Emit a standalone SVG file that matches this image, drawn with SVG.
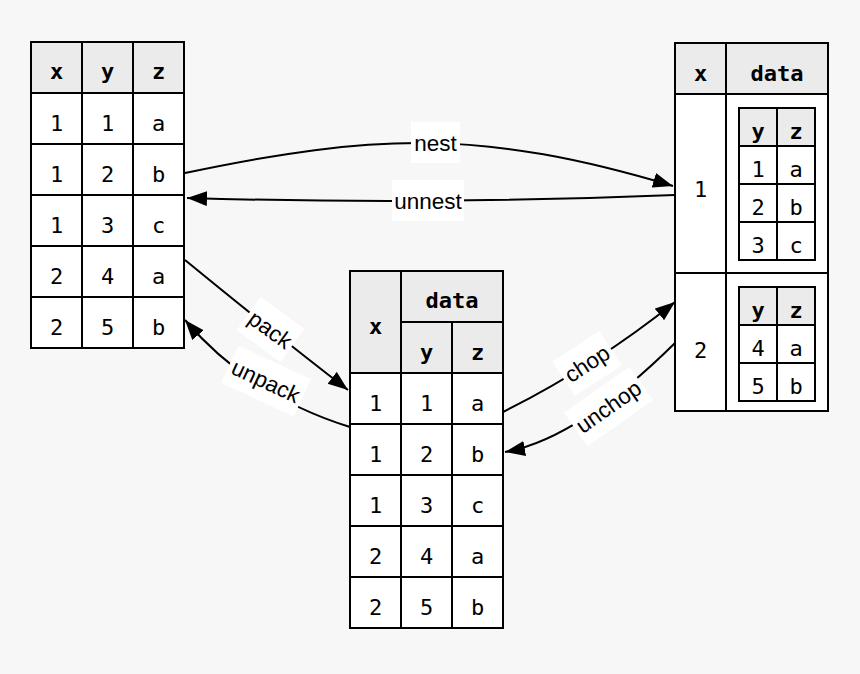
<svg xmlns="http://www.w3.org/2000/svg" width="860" height="674" viewBox="0 0 860 674">
<style>
.h{fill:#ebebeb;stroke:#000;stroke-width:2}
.c{fill:#fff;stroke:#000;stroke-width:2}
.t{font-family:"DejaVu Sans Mono","Liberation Mono",monospace;font-size:22px;text-anchor:middle;fill:#000}
.b{font-weight:bold}
.e{fill:none;stroke:#000;stroke-width:2;marker-end:url(#ah)}
.lb{fill:#fff}
.lt{font-family:"Liberation Sans",Arial,sans-serif;font-size:22.5px;text-anchor:middle;fill:#000}
</style>
<defs>
<marker id="ah" markerUnits="userSpaceOnUse" markerWidth="22" markerHeight="16" refX="20" refY="7.5" orient="auto">
<path d="M0,0 L20,7.5 L0,15 z" fill="#000"/>
</marker>
</defs>
<rect width="860" height="674" fill="#f7f7f7"/>

<g id="table-left">
<rect class="h" x="31" y="42" width="51" height="51"/>
<rect class="h" x="82" y="42" width="51" height="51"/>
<rect class="h" x="133" y="42" width="51" height="51"/>
<rect class="c" x="31" y="93" width="51" height="51"/><rect class="c" x="82" y="93" width="51" height="51"/><rect class="c" x="133" y="93" width="51" height="51"/>
<rect class="c" x="31" y="144" width="51" height="51"/><rect class="c" x="82" y="144" width="51" height="51"/><rect class="c" x="133" y="144" width="51" height="51"/>
<rect class="c" x="31" y="195" width="51" height="51"/><rect class="c" x="82" y="195" width="51" height="51"/><rect class="c" x="133" y="195" width="51" height="51"/>
<rect class="c" x="31" y="246" width="51" height="51"/><rect class="c" x="82" y="246" width="51" height="51"/><rect class="c" x="133" y="246" width="51" height="51"/>
<rect class="c" x="31" y="297" width="51" height="51"/><rect class="c" x="82" y="297" width="51" height="51"/><rect class="c" x="133" y="297" width="51" height="51"/>
<text class="t b" x="56.5" y="79">x</text><text class="t b" x="107.5" y="79">y</text><text class="t b" x="158.5" y="79">z</text>
<text class="t" x="56.5" y="131">1</text><text class="t" x="107.5" y="131">1</text><text class="t" x="158.5" y="131">a</text>
<text class="t" x="56.5" y="182">1</text><text class="t" x="107.5" y="182">2</text><text class="t" x="158.5" y="182">b</text>
<text class="t" x="56.5" y="233">1</text><text class="t" x="107.5" y="233">3</text><text class="t" x="158.5" y="233">c</text>
<text class="t" x="56.5" y="284">2</text><text class="t" x="107.5" y="284">4</text><text class="t" x="158.5" y="284">a</text>
<text class="t" x="56.5" y="335">2</text><text class="t" x="107.5" y="335">5</text><text class="t" x="158.5" y="335">b</text>
</g>

<g id="table-middle">
<rect class="h" x="350" y="271" width="51" height="102"/>
<rect class="h" x="401" y="271" width="102" height="51"/>
<rect class="h" x="401" y="322" width="51" height="51"/>
<rect class="h" x="452" y="322" width="51" height="51"/>
<rect class="c" x="350" y="373" width="51" height="51"/><rect class="c" x="401" y="373" width="51" height="51"/><rect class="c" x="452" y="373" width="51" height="51"/>
<rect class="c" x="350" y="424" width="51" height="51"/><rect class="c" x="401" y="424" width="51" height="51"/><rect class="c" x="452" y="424" width="51" height="51"/>
<rect class="c" x="350" y="475" width="51" height="51"/><rect class="c" x="401" y="475" width="51" height="51"/><rect class="c" x="452" y="475" width="51" height="51"/>
<rect class="c" x="350" y="526" width="51" height="51"/><rect class="c" x="401" y="526" width="51" height="51"/><rect class="c" x="452" y="526" width="51" height="51"/>
<rect class="c" x="350" y="577" width="51" height="51"/><rect class="c" x="401" y="577" width="51" height="51"/><rect class="c" x="452" y="577" width="51" height="51"/>
<text class="t b" x="375.5" y="334">x</text>
<text class="t b" x="452" y="308">data</text>
<text class="t b" x="426.5" y="360">y</text><text class="t b" x="477.5" y="360">z</text>
<text class="t" x="375.5" y="411">1</text><text class="t" x="426.5" y="411">1</text><text class="t" x="477.5" y="411">a</text>
<text class="t" x="375.5" y="462">1</text><text class="t" x="426.5" y="462">2</text><text class="t" x="477.5" y="462">b</text>
<text class="t" x="375.5" y="513">1</text><text class="t" x="426.5" y="513">3</text><text class="t" x="477.5" y="513">c</text>
<text class="t" x="375.5" y="564">2</text><text class="t" x="426.5" y="564">4</text><text class="t" x="477.5" y="564">a</text>
<text class="t" x="375.5" y="615">2</text><text class="t" x="426.5" y="615">5</text><text class="t" x="477.5" y="615">b</text>
</g>

<g id="table-right">
<rect class="h" x="675" y="43" width="51" height="51"/>
<rect class="h" x="726" y="43" width="102" height="51"/>
<rect class="c" x="675" y="94" width="51" height="179"/>
<rect class="c" x="726" y="94" width="102" height="179"/>
<rect class="c" x="675" y="273" width="51" height="138"/>
<rect class="c" x="726" y="273" width="102" height="138"/>
<text class="t b" x="700.5" y="81">x</text>
<text class="t b" x="777" y="81">data</text>
<text class="t" x="700.5" y="197">1</text>
<text class="t" x="700.5" y="358">2</text>
<g id="table-right-inner-1">
<rect class="h" x="739" y="108" width="38" height="38"/><rect class="h" x="777" y="108" width="38" height="38"/>
<rect class="c" x="739" y="146" width="38" height="38"/><rect class="c" x="777" y="146" width="38" height="38"/>
<rect class="c" x="739" y="184" width="38" height="38"/><rect class="c" x="777" y="184" width="38" height="38"/>
<rect class="c" x="739" y="222" width="38" height="38"/><rect class="c" x="777" y="222" width="38" height="38"/>
<text class="t b" x="758" y="139">y</text><text class="t b" x="796" y="139">z</text>
<text class="t" x="758" y="177">1</text><text class="t" x="796" y="177">a</text>
<text class="t" x="758" y="215">2</text><text class="t" x="796" y="215">b</text>
<text class="t" x="758" y="253">3</text><text class="t" x="796" y="253">c</text>
</g>
<g id="table-right-inner-2">
<rect class="h" x="739" y="287" width="38" height="38"/><rect class="h" x="777" y="287" width="38" height="38"/>
<rect class="c" x="739" y="325" width="38" height="38"/><rect class="c" x="777" y="325" width="38" height="38"/>
<rect class="c" x="739" y="363" width="38" height="38"/><rect class="c" x="777" y="363" width="38" height="38"/>
<text class="t b" x="758" y="318">y</text><text class="t b" x="796" y="318">z</text>
<text class="t" x="758" y="356">4</text><text class="t" x="796" y="356">a</text>
<text class="t" x="758" y="394">5</text><text class="t" x="796" y="394">b</text>
</g>
</g>

<g id="connectors">
<path id="e-nest" class="e" d="M185,173 C375,133 483,129 673,186"/>
<path id="e-unnest" class="e" d="M675,195 Q431,205 187,198"/>
<path id="e-pack" class="e" d="M185,260 Q274,333 348,390"/>
<path id="e-unpack" class="e" d="M350,427 Q250,396 185,320"/>
<path id="e-chop" class="e" d="M503,412 Q595,366 675,302"/>
<path id="e-unchop" class="e" d="M675,343 Q578,439 505,452"/>
<g id="label-nest"><rect class="lb" x="411" y="122" width="49" height="41"/><text class="lt" x="435.5" y="151">nest</text></g>
<g id="label-unnest"><rect class="lb" x="392" y="180" width="72" height="41"/><text class="lt" x="428" y="209">unnest</text></g>
<g id="label-pack" transform="translate(270.5,329.5) rotate(36)"><rect class="lb" x="-27" y="-20.5" width="54" height="41"/><text class="lt" x="0" y="8">pack</text></g>
<g id="label-unpack" transform="translate(266,381) rotate(25)"><rect class="lb" x="-40" y="-20.5" width="80" height="41"/><text class="lt" x="0" y="8">unpack</text></g>
<g id="label-chop" transform="translate(587,363.5) rotate(-33)"><rect class="lb" x="-28" y="-20.5" width="56" height="41"/><text class="lt" x="0" y="8">chop</text></g>
<g id="label-unchop" transform="translate(608.5,406.5) rotate(-35)"><rect class="lb" x="-40" y="-20.5" width="80" height="41"/><text class="lt" x="0" y="8">unchop</text></g>
</g>
</svg>
